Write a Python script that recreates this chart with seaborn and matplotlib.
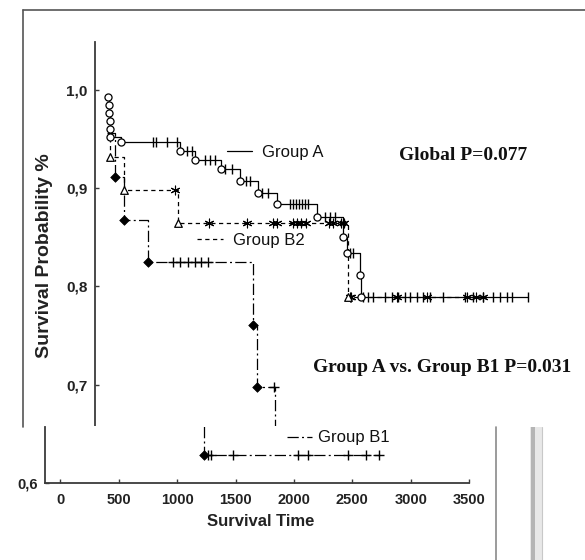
import numpy as np
import pandas as pd
import matplotlib
matplotlib.use("Agg")
import matplotlib.pyplot as plt
from matplotlib.lines import Line2D
from matplotlib.patches import Rectangle
import seaborn as sns

# ---------------- data ----------------
a_start_time = 405
a_start_surv = 0.995
a_event_times = [408, 412, 416, 420, 424, 428, 520, 1020, 1150, 1370, 1540,
                 1690, 1850, 2200, 2420, 2450, 2560, 2572]
a_event_surv = [0.993, 0.985, 0.977, 0.969, 0.961, 0.953, 0.947, 0.938, 0.929,
                0.920, 0.908, 0.895, 0.884, 0.871, 0.850, 0.834, 0.812, 0.789]
a_censor_times = [790, 815, 910, 1000, 1085, 1125, 1240, 1280, 1320, 1410, 1470,
                  1590, 1620, 1725, 1775, 1965, 1990, 2015, 2040, 2070, 2095,
                  2120, 2265, 2305, 2350, 2480, 2500, 2590, 2635, 2675, 2780,
                  2840, 2890, 2950, 2995, 3055, 3105, 3165, 3275, 3465, 3530,
                  3615, 3705, 3765, 3825, 3865, 4000]

b2_start_time = 424
b2_start_surv = 0.960
b2_event_times = [424, 544, 1005, 2460]
b2_event_surv = [0.932, 0.898, 0.865, 0.789]
b2_censor_times = [980, 1270, 1600, 1820, 1850, 1990, 2025, 2060, 2100, 2300,
                   2330, 2400, 2430, 2475, 2490, 2880, 3140, 3480, 3560, 3620]

b1_start_time = 398
b1_start_surv = 0.957
b1_event_times = [467, 544, 749, 1648, 1682, 1835]
b1_event_surv = [0.912, 0.868, 0.825, 0.761, 0.697, 0.628]
b1_censor_times = [965, 1023, 1092, 1152, 1203, 1263, 1828]

# continuation of Group B1 shown in the lower (broken-axis) panel
b1_low_start_time = 1230
b1_low_start_surv = 0.697
b1_low_event_times = [1230]
b1_low_event_surv = [0.628]
b1_low_censor_times = [1264, 1290, 1478, 2033, 2121, 2461, 2618, 2725]

upper_yticks = [0.7, 0.8, 0.9, 1.0]
upper_yticklabels = ["0,7", "0,8", "0,9", "1,0"]
lower_yticks = [0.6]
lower_yticklabels = ["0,6"]
xticks = [0, 500, 1000, 1500, 2000, 2500, 3000, 3500]
xticklabels = ["0", "500", "1000", "1500", "2000", "2500", "3000", "3500"]

legend_labels = ["Group A", "Group B2", "Group B1"]
p_global = "Global P=0.077"
p_pair = "Group A vs. Group B1 P=0.031"
xlabel = "Survival Time"
ylabel = "Survival Probability %"


# ---------------- helpers ----------------
def step_frame(start_t, start_s, ev_t, ev_s, cens_t):
    t = [start_t] + list(ev_t)
    s = [start_s] + list(ev_s)
    end = max(max(cens_t), t[-1])
    t.append(end)
    s.append(s[-1])
    return pd.DataFrame({"time": t, "surv": s})


def surv_at(times, start_s, ev_t, ev_s):
    times = np.asarray(times, dtype=float)
    idx = np.searchsorted(np.asarray(ev_t), times, side="right") - 1
    vals = np.asarray(ev_s)[np.clip(idx, 0, None)]
    return np.where(idx >= 0, vals, start_s)


W, H = 585, 560


def fx(px):
    return px / W


def fy(py):
    return 1 - py / H


X0_PX = 60.5              # pixel of time 0
K = 58.4 / 500            # pixels per time unit
Y0_PX = 482.5             # pixel of survival 0.6
KY = 980.0                # pixels per survival unit


def xd(px):
    return (px - X0_PX) / K


def yd(py):
    return 0.6 + (Y0_PX - py) / KY


# ---------------- style ----------------
sns.set_theme(style="white")
plt.rcParams["font.family"] = ["Liberation Sans", "DejaVu Sans"]
serif = ["Liberation Serif", "DejaVu Serif"]

fig = plt.figure(figsize=(5.85, 5.6), dpi=100)
fig.patch.set_facecolor("white")

BREAK = 426.5
ax_up = fig.add_axes([fx(95), fy(BREAK), fx(585) - fx(95), fy(42) - fy(BREAK)])
ax_lo = fig.add_axes([fx(45), fy(483), fx(469) - fx(45), fy(BREAK) - fy(483)])

LW = 0.9
ls_b2 = (0, (3.4, 2.8))
ls_b1 = (0, (9, 2.6, 1.6, 2.6))

df_a = step_frame(a_start_time, a_start_surv, a_event_times, a_event_surv, a_censor_times)
df_b2 = step_frame(b2_start_time, b2_start_surv, b2_event_times, b2_event_surv, b2_censor_times)
df_b1 = step_frame(b1_start_time, b1_start_surv, b1_event_times, b1_event_surv, b1_censor_times)
df_b1_low = step_frame(b1_low_start_time, b1_low_start_surv, b1_low_event_times,
                       b1_low_event_surv, b1_low_censor_times)

common = dict(x="time", y="surv", estimator=None, sort=False, drawstyle="steps-post",
              color="black", linewidth=LW, legend=False)
sns.lineplot(data=df_a, ax=ax_up, linestyle="-", **common)
sns.lineplot(data=df_b2, ax=ax_up, linestyle=ls_b2, **common)
sns.lineplot(data=df_b1, ax=ax_up, linestyle=ls_b1, **common)
sns.lineplot(data=df_b1_low, ax=ax_lo, linestyle=ls_b1, **common)

# censor marks
sns.scatterplot(x=a_censor_times,
                y=surv_at(a_censor_times, a_start_surv, a_event_times, a_event_surv),
                marker="|", s=50, color="black", linewidth=1.0, ax=ax_up, zorder=4, legend=False)
sns.scatterplot(x=b2_censor_times,
                y=surv_at(b2_censor_times, b2_start_surv, b2_event_times, b2_event_surv),
                marker=(6, 2, 0), s=40, color="black", linewidth=0.8, ax=ax_up, zorder=4, legend=False)
sns.scatterplot(x=b1_censor_times,
                y=surv_at(b1_censor_times, b1_start_surv, b1_event_times, b1_event_surv),
                marker="+", s=45, color="black", linewidth=1.0, ax=ax_up, zorder=4, legend=False)
sns.scatterplot(x=b1_low_censor_times,
                y=surv_at(b1_low_censor_times, b1_low_start_surv, b1_low_event_times, b1_low_event_surv),
                marker="+", s=45, color="black", linewidth=1.0, ax=ax_lo, zorder=4, legend=False)

# event markers
sns.scatterplot(x=a_event_times, y=a_event_surv, marker="o", s=26, color="white",
                edgecolor="black", linewidth=0.9, ax=ax_up, zorder=5, legend=False)
sns.scatterplot(x=b2_event_times, y=b2_event_surv, marker="^", s=30, color="white",
                edgecolor="black", linewidth=0.9, ax=ax_up, zorder=5, legend=False)
sns.scatterplot(x=b1_event_times, y=b1_event_surv, marker="D", s=24, color="black",
                edgecolor="black", linewidth=0.5, ax=ax_up, zorder=5, legend=False)
sns.scatterplot(x=b1_low_event_times, y=b1_low_event_surv, marker="D", s=24, color="black",
                edgecolor="black", linewidth=0.5, ax=ax_lo, zorder=5, legend=False)

# ---------------- axes ----------------
SP = "#3a3a3a"
ax_up.set_xlim(xd(95), xd(585))
ax_up.set_ylim(yd(BREAK), yd(42))
ax_lo.set_xlim(xd(45), xd(469))
ax_lo.set_ylim(yd(483), yd(BREAK))

for s in ["top", "right", "bottom"]:
    ax_up.spines[s].set_visible(False)
ax_up.spines["left"].set_color(SP)
ax_up.spines["left"].set_linewidth(1.3)
ax_up.set_xticks([])
ax_up.set_yticks(upper_yticks)
ax_up.set_yticklabels(upper_yticklabels)
ax_up.tick_params(axis="y", direction="in", length=3, width=1, color=SP, pad=5.5,
                  labelsize=11, left=True)
ax_up.set_xlabel("")

for s in ["top", "right"]:
    ax_lo.spines[s].set_visible(False)
for s in ["left", "bottom"]:
    ax_lo.spines[s].set_color(SP)
    ax_lo.spines[s].set_linewidth(1.3)
ax_lo.set_xticks(xticks)
ax_lo.set_xticklabels(xticklabels)
ax_lo.set_yticks(lower_yticks)
ax_lo.set_yticklabels(lower_yticklabels)
ax_lo.tick_params(axis="x", direction="in", length=3, width=1, color=SP, pad=7,
                  labelsize=10.5, bottom=True)
ax_lo.tick_params(axis="y", direction="in", length=3, width=1, color=SP, pad=5,
                  labelsize=10.5, left=True)
for lbl in ax_up.get_yticklabels() + ax_lo.get_yticklabels() + ax_lo.get_xticklabels():
    lbl.set_fontweight("bold")
    lbl.set_color("#222222")

ax_up.set_ylabel(ylabel, fontsize=14, fontweight="bold", color="#222222")
ax_up.yaxis.set_label_coords(fx(45), fy(256), transform=fig.transFigure)
ax_up.yaxis.label.set_verticalalignment("center")
ax_lo.set_ylabel("")
ax_lo.set_xlabel(xlabel, fontsize=12, fontweight="bold", color="#222222")
ax_lo.xaxis.set_label_coords(fx(261), fy(522), transform=fig.transFigure)
ax_lo.xaxis.label.set_verticalalignment("center")

# ---------------- in-plot legend texts ----------------
fig.add_artist(Line2D([fx(227), fx(252)], [fy(151), fy(151)], color="black", lw=LW))
fig.add_artist(Line2D([fx(197), fx(223)], [fy(239), fy(239)], color="black", lw=LW,
                      linestyle=ls_b2))
fig.add_artist(Line2D([fx(287), fx(312)], [fy(437), fy(437)], color="black", lw=LW,
                      linestyle=ls_b1))
fig.text(fx(262), fy(157), legend_labels[0], fontsize=12, va="baseline", ha="left", color="#111111")
fig.text(fx(233), fy(245), legend_labels[1], fontsize=12, va="baseline", ha="left", color="#111111")
fig.text(fx(318), fy(442), legend_labels[2], fontsize=12, va="baseline", ha="left", color="#111111")

fig.text(fx(399), fy(160), p_global, family=serif, fontweight="bold", fontsize=14,
         va="baseline", ha="left", color="#111111")
fig.text(fx(313), fy(372), p_pair, family=serif, fontweight="bold", fontsize=14,
         va="baseline", ha="left", color="#111111")

# ---------------- scan frame decorations ----------------
FR = "#555555"
fig.add_artist(Line2D([fx(23), fx(23)], [fy(10), fy(BREAK)], color=FR, lw=1.2))
fig.add_artist(Line2D([fx(23), fx(585)], [fy(10), fy(10)], color=FR, lw=1.2))
fig.add_artist(Line2D([fx(496), fx(496)], [fy(427), fy(560)], color="#8a8a8a", lw=1.2))
fig.add_artist(Rectangle((fx(530), 0), fx(542) - fx(530), fy(427), transform=fig.transFigure,
                         facecolor="#e8e8e8", edgecolor="none"))
fig.add_artist(Rectangle((fx(531), 0), fx(535) - fx(531), fy(427), transform=fig.transFigure,
                         facecolor="#b5b5b5", edgecolor="none"))
fig.add_artist(Line2D([fx(542), fx(542)], [0, fy(427)], color="#c8c8c8", lw=0.8))

fig.savefig("out.png", dpi=100)
